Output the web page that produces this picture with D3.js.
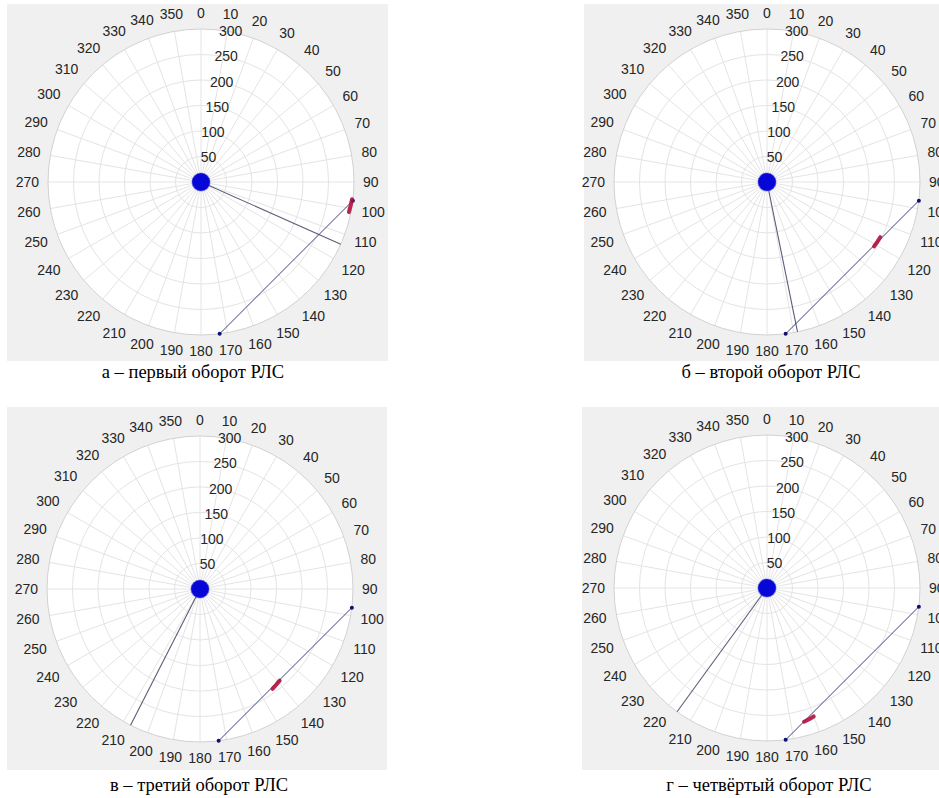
<!DOCTYPE html>
<html><head><meta charset="utf-8">
<script src="https://cdn.jsdelivr.net/npm/d3@7"></script>
<style>body{margin:0;background:#fff;}svg{display:block;}</style>
</head><body>
<svg id="c" width="939" height="798"></svg>
<script>
// ---- data ----
const thetaTicks = d3.range(0, 360, 10);
const rTicks = [50, 100, 150, 200, 250, 300];
const rMax = 300;
const captions = ["а – первый оборот РЛС", "б – второй оборот РЛС", "в – третий оборот РЛС", "г – четвёртый оборот РЛС"];
// radar beam direction (deg) in each revolution
const beamTheta = [114, 168.5, 207, 216];
// chord (line between the two marked points), same in each revolution
const chordTheta = [97, 173];
const chordR = [300, 300];
// target track (red) in each revolution
const trackTheta = [[96.5, 99, 101.5], [121, 118.5, 116], [144, 141.5, 139], [164.5, 162, 160]];
const trackR = [[298, 297, 296], [245, 246, 247], [242, 240, 238], [272, 270, 268]];
// cluster of returns at the radar position
const clusterR = [0];

// ---- layout ----
const panels = [
  {box:[7,4,388,361], cx:201, cy:182, cap:[193,372]},
  {box:[584,4,945,361], cx:767, cy:182, cap:[771,372]},
  {box:[7,407,387,770], cx:200, cy:589, cap:[199,785]},
  {box:[582,407,945,770], cx:767, cy:588, cap:[769,785]}
];
const R = 153;
const svg = d3.select("#c");
const rScale = d3.scaleLinear().domain([0, rMax]).range([0, R]);
const toXY = (th, r) => { const a = th * Math.PI / 180; return [Math.sin(a) * rScale(r), -Math.cos(a) * rScale(r)]; };
const FONT = "Liberation Sans, Arial, sans-serif";

panels.forEach((p, i) => {
  svg.append("rect").attr("x", p.box[0]).attr("y", p.box[1])
    .attr("width", p.box[2] - p.box[0]).attr("height", p.box[3] - p.box[1]).attr("fill", "#f0f0f0");
  const g = svg.append("g").attr("transform", `translate(${p.cx},${p.cy})`);
  g.append("circle").attr("r", R).attr("fill", "#ffffff");
  // spokes
  g.selectAll("line.sp").data(thetaTicks).join("line")
    .attr("x1", 0).attr("y1", 0)
    .attr("x2", d => toXY(d, rMax)[0]).attr("y2", d => toXY(d, rMax)[1])
    .attr("stroke", "#e4e4e4").attr("stroke-width", 1);
  // rings
  g.selectAll("circle.rg").data(rTicks).join("circle")
    .attr("r", d => rScale(d)).attr("fill", "none")
    .attr("stroke", d => d === rMax ? "#d2d2d2" : "#e4e4e4").attr("stroke-width", 1);
  // theta labels (text box kept at a fixed gap outside the circle)
  g.selectAll("text.th").data(thetaTicks).join("text")
    .attr("text-anchor", "middle").attr("dominant-baseline", "central")
    .attr("font-family", FONT).attr("font-size", 14)
    .attr("fill", "#262626").text(d => d)
    .each(function(d) {
      const w = this.getComputedTextLength(), h = 14;
      const a = d * Math.PI / 180, s = Math.sin(a), c = Math.cos(a);
      const rr = R + 9 + Math.abs(s) * w / 2 + Math.abs(c) * h / 2;
      d3.select(this).attr("x", s * rr).attr("y", -c * rr);
    });
  // r labels
  g.selectAll("text.rl").data(rTicks).join("text")
    .attr("x", d => Math.sin(10 * Math.PI / 180) * rScale(d) + 3)
    .attr("y", d => -Math.cos(10 * Math.PI / 180) * rScale(d))
    .attr("text-anchor", "middle").attr("dominant-baseline", "central")
    .attr("font-family", FONT).attr("font-size", 14)
    .attr("fill", "#262626").text(d => d);
  // radar beam
  const be = toXY(beamTheta[i], rMax);
  g.append("line").attr("x1", 0).attr("y1", 0).attr("x2", be[0]).attr("y2", be[1])
    .attr("stroke", "#5c5c78").attr("stroke-width", 1.1);
  // chord
  const cpts = chordTheta.map((t, k) => toXY(t, chordR[k]));
  g.append("path").attr("d", d3.line()(cpts)).attr("fill", "none")
    .attr("stroke", "#40407a").attr("stroke-width", 1);
  g.selectAll("circle.ep").data(cpts).join("circle")
    .attr("cx", d => d[0]).attr("cy", d => d[1]).attr("r", 2).attr("fill", "#101070");
  // track
  const tpts = trackTheta[i].map((t, k) => toXY(t, trackR[i][k]));
  g.append("path").attr("d", d3.line()(tpts)).attr("fill", "none")
    .attr("stroke", "#b0103c").attr("stroke-width", 4).attr("stroke-linecap", "round").attr("opacity", 0.9);
  // cluster
  g.selectAll("circle.cl").data(clusterR).join("circle")
    .attr("cx", d => toXY(0, d)[0]).attr("cy", d => toXY(0, d)[1])
    .attr("r", 9).attr("fill", "#0606d6").attr("stroke", "#3a3ae0").attr("stroke-width", 1.2).attr("stroke-opacity", 0.5);
  // caption
  svg.append("text").attr("x", p.cap[0]).attr("y", p.cap[1])
    .attr("text-anchor", "middle").attr("dominant-baseline", "central")
    .attr("font-family", "Liberation Serif, Times New Roman, serif").attr("font-size", 18.5)
    .attr("fill", "#000").text(captions[i]);
});
</script>
</body></html>
